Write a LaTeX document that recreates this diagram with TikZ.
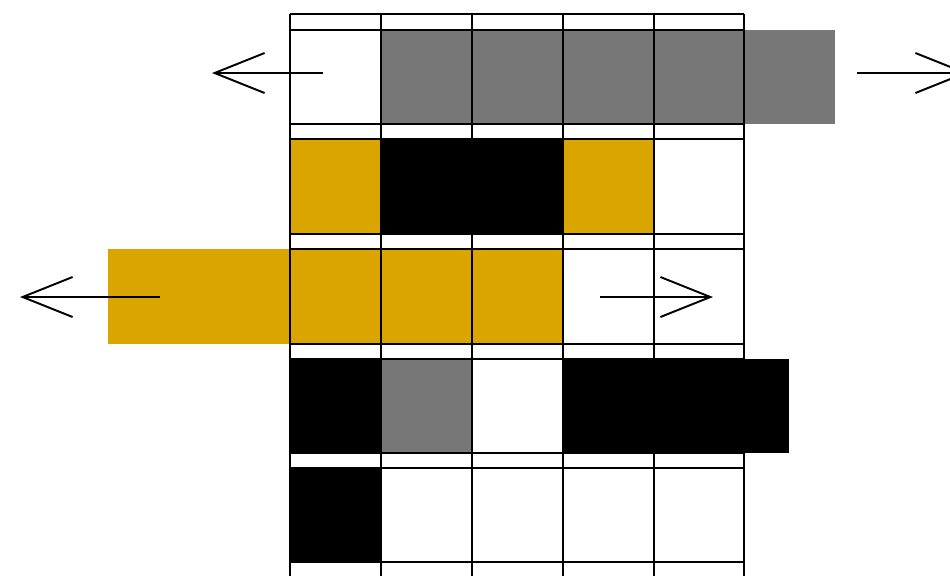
\documentclass[tikz,border=0pt]{standalone}
\usepackage{xcolor}
\usepackage{tikz}
\usetikzlibrary{arrows.meta}
\definecolor{cellgray}{HTML}{777777}
\definecolor{cellgold}{HTML}{DBA500}
\tikzset{
  gridline/.style={draw=black, line width=1.1pt},
  graycell/.style={fill=cellgray},
  goldcell/.style={fill=cellgold},
  blackcell/.style={fill=black},
  arrow/.style={-{Straight Barb[length=1cm, width=0.8cm]}, line width=1.1pt},
}

\begin{document}
\begin{tikzpicture}[x=0.02cm, y=-0.02cm]
  \useasboundingbox (0,0) rectangle (950,575);

  % Row 1
  \fill[graycell] (381,30) rectangle (835,124);
  % Row 2
  \fill[goldcell] (290,139) rectangle (381,234);
  \fill[blackcell] (381,139) rectangle (563,234);
  \fill[goldcell] (563,139) rectangle (654,234);
  % Row 3
  \fill[goldcell] (108,249) rectangle (563,344);
  % Row 4
  \fill[blackcell] (290,359) rectangle (381,453);
  \fill[graycell] (381,359) rectangle (472,453);
  \fill[blackcell] (563,359) rectangle (789,453);
  % Row 5
  \fill[blackcell] (290,468) rectangle (381,562);

  % Grid
  \foreach \x in {290,381,472,563,654,744}
    \draw[gridline] (\x,14) -- (\x,590);
  \foreach \y in {14,30,124,139,234,249,344,359,453,468,562,577}
    \draw[gridline] (290,\y) -- (744,\y);

  % Arrows
  \coordinate (topleftstart) at (323,73);
  \coordinate (toplefttip) at (212,73);
  \coordinate (toprightstart) at (857,73);
  \coordinate (toprighttip) at (968,73);
  \coordinate (midleftstart) at (160,297);
  \coordinate (midlefttip) at (20,297);
  \coordinate (midrightstart) at (600,297);
  \coordinate (midrighttip) at (713,297);

  \draw[arrow] (topleftstart) -- (toplefttip);
  \draw[arrow] (toprightstart) -- (toprighttip);
  \draw[arrow] (midleftstart) -- (midlefttip);
  \draw[arrow] (midrightstart) -- (midrighttip);

\end{tikzpicture}
\end{document}
